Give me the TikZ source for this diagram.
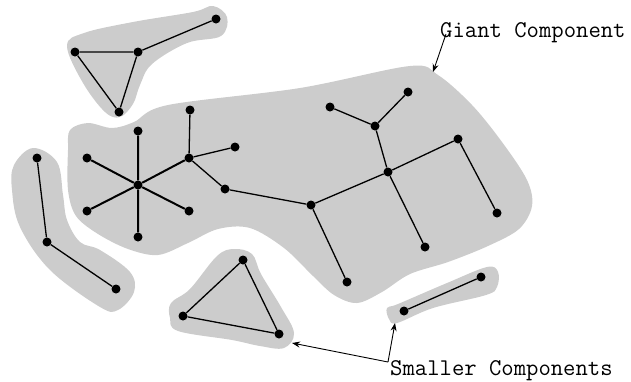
\documentclass[tikz,border=0pt]{standalone}
\usetikzlibrary{arrows.meta}
\begin{document}
\begin{tikzpicture}[x=1pt,y=-1pt,
  blob/.style={fill=black!20},
  vtx/.style={circle,fill=black,inner sep=0pt,minimum size=9pt},
  edge/.style={line width=1.3pt},
  thick edge/.style={line width=2pt},
  lbl/.style={font=\fontsize{24}{28}\selectfont\ttfamily,inner sep=0pt,anchor=base west},
  pointer/.style={line width=0.9pt,-{Stealth[length=8pt,width=6pt]}}]
\useasboundingbox (0,0) rectangle (631,381);
% blobs
\fill[blob] plot[smooth cycle,tension=0.55] coordinates {(70,130) (88,123) (112,128) (134,122) (168,105) (300,88) (410,66) (438,75) (472,105) (502,142) (527,180) (532,206) (519,229) (488,246) (448,262) (410,274) (382,292) (357,303) (334,295) (313,276) (284,248) (250,228) (218,229) (188,243) (158,255) (128,249) (98,234) (76,216) (68,190) (68,150)};
\fill[blob] plot[smooth cycle,tension=0.6] coordinates {(67,46) (84,33) (133,22) (193,12) (213,6) (227,17) (221,36) (187,43) (152,64) (140,85) (133,104) (120,117) (105,112) (83,83)};
\fill[blob] plot[smooth cycle,tension=0.6] coordinates {(33,148) (14,165) (12,190) (20,227) (50,270) (100,307) (118,310) (134,292) (130,272) (100,250) (80,242) (67,220) (63,195) (57,162)};
\fill[blob] plot[smooth cycle,tension=0.6] coordinates {(217,256) (234,249) (252,254) (261,274) (281,307) (294,333) (284,348) (260,346) (232,340) (178,331) (170,318) (171,303) (190,289)};
\fill[blob] plot[smooth cycle,tension=0.6] coordinates {(387,308) (398,304) (447,283) (487,267) (498,272) (497,287) (486,295) (433,308) (397,323) (389,319)};
% top component
\node[vtx] (a1) at (75,52) {};
\node[vtx] (a2) at (138,52) {};
\node[vtx] (a3) at (119,112) {};
\node[vtx] (a4) at (216,19) {};
\draw[edge] (a1) -- (a2) -- (a3) -- (a1) (a2) -- (a4);
% left component
\node[vtx] (b1) at (37,158) {};
\node[vtx] (b2) at (47,242) {};
\node[vtx] (b3) at (116,289) {};
\draw[edge] (b1) -- (b2) -- (b3);
% bottom triangle
\node[vtx] (c1) at (243,260) {};
\node[vtx] (c2) at (183,316) {};
\node[vtx] (c3) at (279,334) {};
\draw[edge] (c1) -- (c2) -- (c3) -- (c1);
% small right
\node[vtx] (d1) at (404,311) {};
\node[vtx] (d2) at (481,277) {};
\draw[edge] (d1) -- (d2);
% giant component
\node[vtx] (s) at (138,185) {};
\node[vtx] (s1) at (138,131) {};
\node[vtx] (s2) at (87,158) {};
\node[vtx] (s3) at (87,211) {};
\node[vtx] (s4) at (138,237) {};
\node[vtx] (s5) at (189,211) {};
\node[vtx] (h) at (189,158) {};
\node[vtx] (h1) at (190,110) {};
\node[vtx] (h2) at (235,147) {};
\node[vtx] (e) at (225,189) {};
\node[vtx] (f) at (311,205) {};
\node[vtx] (f1) at (347,282) {};
\node[vtx] (g) at (388,172) {};
\node[vtx] (k) at (375,126) {};
\node[vtx] (k1) at (330,107) {};
\node[vtx] (k2) at (408,92) {};
\node[vtx] (m) at (458,139) {};
\node[vtx] (m1) at (497,213) {};
\node[vtx] (g1) at (425,247) {};
\draw[thick edge] (s) -- (s1) (s) -- (s2) (s) -- (s3) (s) -- (s4) (s) -- (s5) (s) -- (h);
\draw[edge] (h) -- (h1) (h) -- (h2) (h) -- (e) -- (f) -- (f1) (f) -- (g) -- (k) -- (k1) (k) -- (k2) (g) -- (m) -- (m1) (g) -- (g1);
% labels
\node[lbl] (gl) at (440,37) {Giant Component};
\node[lbl] (sl) at (390,375) {Smaller Components};
\coordinate (gt) at (446,34);
\coordinate (ga) at (433,72);
\coordinate (st) at (388,362);
\coordinate (sa1) at (292,343);
\coordinate (sa2) at (395,323);
\draw[pointer] (gt) -- (ga);
\draw[pointer] (st) -- (sa1);
\draw[pointer] (st) -- (sa2);
\end{tikzpicture}
\end{document}
